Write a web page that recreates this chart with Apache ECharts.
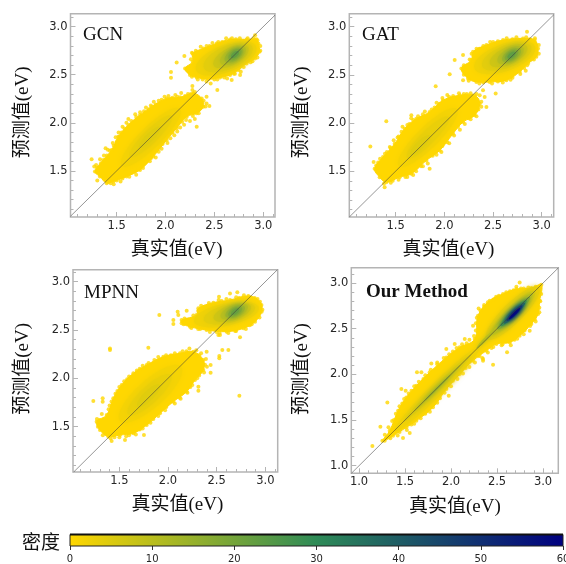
<!DOCTYPE html>
<html><head><meta charset="utf-8">
<script src="https://cdn.jsdelivr.net/npm/echarts@6/dist/echarts.min.js"></script>
<style>html,body{margin:0;padding:0;background:#fff}#c{width:566px;height:564px}</style>
</head><body><div id="c"></div>
<script>
const densityStops = ['#FFD700', '#2E8B57', '#000080'];
const densityTicks = [0, 10, 20, 30, 40, 50, 60];
const majorA = [1.5, 2.0, 2.5, 3.0];
const majorB = [1.0, 1.5, 2.0, 2.5, 3.0];
const minorA = [1.1,1.2,1.3,1.4,1.6,1.7,1.8,1.9,2.1,2.2,2.3,2.4,2.6,2.7,2.8,2.9,3.1];
const minorB = [1.0,1.1,1.2,1.3,1.4,1.6,1.7,1.8,1.9,2.1,2.2,2.3,2.4,2.6,2.7,2.8,2.9,3.1];
const xTitle = '真实值(eV)', yTitle = '预测值(eV)', barTitle = '密度';

// cloud outlines [true, predicted]
const gcnLow = [[1.278,1.493],[1.363,1.614],[1.449,1.718],[1.517,1.856],[1.619,1.978],[1.739,2.081],[1.858,2.168],[2.012,2.254],[2.148,2.265],[2.285,2.306],[2.37,2.254],[2.387,2.168],[2.319,2.099],[2.217,2.064],[2.114,1.943],[2.012,1.822],[1.875,1.649],[1.739,1.51],[1.602,1.441],[1.466,1.389],[1.398,1.372],[1.329,1.441]];
const gcnHigh = [[2.20,2.566],[2.278,2.635],[2.278,2.72],[2.387,2.773],[2.524,2.825],[2.66,2.867],[2.831,2.867],[2.93,2.87],[2.95,2.825],[2.96,2.74],[2.916,2.67],[2.83,2.618],[2.746,2.548],[2.66,2.497],[2.558,2.472],[2.439,2.452],[2.319,2.472],[2.25,2.497]];
const gatLow = [[1.284,1.524],[1.37,1.646],[1.49,1.785],[1.592,1.941],[1.712,2.045],[1.849,2.115],[1.986,2.236],[2.158,2.288],[2.312,2.288],[2.363,2.201],[2.312,2.08],[2.192,2.01],[2.089,1.889],[1.952,1.715],[1.815,1.611],[1.661,1.472],[1.541,1.438],[1.404,1.385],[1.336,1.438]];
const gatHigh = [[2.175,2.566],[2.277,2.653],[2.295,2.74],[2.432,2.809],[2.603,2.861],[2.808,2.878],[2.928,2.861],[2.962,2.774],[2.945,2.688],[2.86,2.618],[2.774,2.531],[2.637,2.444],[2.466,2.427],[2.329,2.427],[2.243,2.462]];
const mpnnLow = [[1.267,1.552],[1.37,1.621],[1.438,1.793],[1.524,1.931],[1.644,2.052],[1.781,2.138],[1.952,2.224],[2.123,2.259],[2.26,2.276],[2.363,2.19],[2.363,2.086],[2.277,1.983],[2.192,1.862],[2.055,1.759],[1.918,1.638],[1.781,1.517],[1.644,1.431],[1.507,1.414],[1.387,1.397],[1.301,1.466]];
const mpnnHigh = [[2.14,2.603],[2.295,2.655],[2.312,2.724],[2.466,2.783],[2.637,2.81],[2.825,2.852],[2.945,2.793],[2.962,2.69],[2.894,2.586],[2.774,2.517],[2.603,2.483],[2.397,2.5],[2.226,2.534],[2.14,2.569]];
const oursAll = [[1.254,1.274],[1.333,1.383],[1.424,1.602],[1.514,1.748],[1.623,1.876],[1.768,2.022],[1.949,2.186],[2.094,2.296],[2.257,2.387],[2.293,2.642],[2.42,2.807],[2.565,2.88],[2.71,2.934],[2.873,2.945],[2.982,2.982],[2.964,2.807],[2.946,2.661],[2.873,2.551],[2.746,2.423],[2.638,2.35],[2.493,2.332],[2.384,2.259],[2.239,2.15],[2.094,2.004],[1.949,1.839],[1.804,1.639],[1.623,1.493],[1.514,1.42],[1.37,1.328],[1.279,1.274]];

// loose points at the cloud edges and outliers
const gcnDots = [[1.244,1.621],[1.271,1.545],[1.302,1.40],[1.387,1.735],[1.527,1.856],[2.056,2.528],[2.056,2.469],[2.114,2.628],[2.193,2.694],[2.275,2.382],[2.275,2.341],[2.285,2.306],[2.42,2.27],[2.42,2.20],[2.449,2.175],[2.319,1.96],[2.53,2.34],[2.677,2.445],[2.763,2.497],[2.462,2.41],[2.916,2.912],[1.30,1.53],[1.34,1.58],[1.40,1.66],[1.43,1.71],[1.47,1.76],[1.50,1.80],[1.55,1.90],[1.58,1.94],[1.65,2.02],[1.70,2.06],[1.78,2.12],[1.83,2.14],[1.90,2.19],[1.96,2.24],[2.07,2.26],[2.12,2.27],[2.20,2.28],[2.26,2.30],[2.34,2.14],[2.28,2.07],[2.25,2.02],[2.17,2.01],[2.15,1.95],[2.07,1.90],[2.05,1.84],[1.97,1.78],[1.93,1.70],[1.85,1.63],[1.80,1.59],[1.72,1.52],[1.66,1.50],[1.56,1.42],[1.50,1.40],[1.44,1.37],[2.33,2.68],[2.45,2.80],[2.58,2.84],[2.72,2.87],[2.90,2.88],[2.93,2.79],[2.87,2.63],[2.70,2.51],[2.60,2.47],[2.50,2.45],[2.38,2.45],
[1.29,1.56],[1.33,1.62],[1.37,1.66],[1.41,1.72],[1.46,1.79],[1.49,1.85],[1.52,1.90],[1.56,1.96],[1.60,2.00],[1.62,2.04],[1.69,2.09],[1.74,2.11],[1.80,2.16],[1.85,2.18],[1.88,2.22],[1.93,2.23],[1.99,2.27],[2.03,2.28],[2.10,2.29],[2.16,2.31],[2.23,2.30],[2.30,2.32],[2.39,2.23],[2.41,2.17],[2.34,2.10],[2.30,2.04],[2.21,2.03],[2.19,1.98],[2.12,1.91],[2.09,1.87],[2.02,1.79],[1.96,1.73],[1.90,1.64],[1.84,1.60],[1.77,1.53],[1.70,1.46],[1.63,1.44],[1.54,1.39],[1.47,1.36],[2.26,2.58],[2.26,2.66],[2.27,2.73],[2.31,2.75],[2.36,2.79],[2.42,2.80],[2.48,2.83],[2.54,2.84],[2.62,2.88],[2.68,2.88],[2.76,2.88],[2.84,2.88],[2.94,2.86],[2.97,2.80],[2.97,2.75],[2.94,2.68],[2.89,2.64],[2.80,2.58],[2.77,2.53],[2.71,2.51],[2.63,2.46],[2.53,2.45],[2.42,2.43],[2.33,2.45],[2.27,2.48]];
const gatDots = [[1.24,1.757],[1.274,1.594],[1.404,2.017],[1.387,1.333],[1.911,2.382],[2.055,2.507],[2.106,2.653],[2.192,2.705],[2.192,2.444],[2.849,2.948],[2.836,2.542],[2.527,2.306],[2.432,2.167],[2.414,2.271],[2.363,2.288],[1.849,1.524],[1.661,2.08],[2.397,2.34],[1.32,1.59],[1.41,1.70],[1.45,1.74],[1.53,1.86],[1.56,1.91],[1.64,1.99],[1.68,2.03],[1.78,2.09],[1.90,2.16],[1.95,2.20],[2.05,2.27],[2.10,2.26],[2.23,2.30],[2.34,2.24],[2.35,2.14],[2.25,2.05],[2.14,1.96],[2.03,1.80],[1.98,1.76],[1.88,1.66],[1.76,1.55],[1.71,1.50],[1.60,1.44],[1.47,1.40],[2.36,2.77],[2.50,2.84],[2.70,2.87],[2.88,2.87],[2.94,2.72],[2.82,2.57],[2.70,2.47],[2.55,2.43],[2.40,2.42],
[1.30,1.56],[1.34,1.63],[1.39,1.68],[1.44,1.75],[1.48,1.82],[1.52,1.85],[1.57,1.96],[1.62,1.98],[1.66,2.05],[1.73,2.07],[1.80,2.12],[1.87,2.14],[1.92,2.21],[1.98,2.26],[2.03,2.29],[2.09,2.28],[2.15,2.31],[2.20,2.30],[2.27,2.31],[2.33,2.30],[2.38,2.22],[2.38,2.17],[2.33,2.07],[2.27,2.04],[2.21,1.99],[2.16,1.93],[2.10,1.87],[2.05,1.79],[1.97,1.70],[1.92,1.67],[1.83,1.58],[1.78,1.55],[1.68,1.46],[1.62,1.44],[1.53,1.41],[1.45,1.38],[1.38,1.37],[2.20,2.60],[2.26,2.66],[2.28,2.72],[2.33,2.77],[2.40,2.80],[2.47,2.84],[2.55,2.85],[2.64,2.88],[2.74,2.89],[2.84,2.89],[2.93,2.88],[2.97,2.81],[2.97,2.72],[2.92,2.66],[2.85,2.60],[2.78,2.51],[2.68,2.45],[2.60,2.42],[2.49,2.41],[2.36,2.41],[2.25,2.44],[2.20,2.50]];
const mpnnDots = [[1.233,1.766],[1.329,1.793],[1.329,1.759],[1.295,1.569],[1.404,2.31],[1.404,2.293],[1.798,2.317],[1.911,2.655],[2.055,2.603],[2.055,2.562],[2.099,2.69],[2.106,2.655],[2.192,2.7],[2.637,2.879],[2.712,2.89],[2.524,2.845],[2.74,2.424],[2.733,1.821],[2.62,2.293],[2.558,2.293],[2.527,2.231],[2.527,2.207],[2.517,2.448],[2.534,2.448],[2.397,2.276],[2.438,2.138],[2.438,2.059],[1.558,1.362],[1.421,1.352],[1.753,1.414],[2.312,1.872],[2.312,1.914],[1.40,1.72],[1.48,1.87],[1.58,1.99],[1.71,2.10],[1.86,2.19],[2.03,2.24],[2.19,2.28],[2.32,2.24],[2.38,2.14],[2.32,2.03],[2.23,1.91],[2.12,1.80],[1.98,1.70],[1.85,1.58],[1.71,1.47],[1.57,1.40],[1.45,1.39],[2.38,2.74],[2.55,2.80],[2.73,2.83],[2.89,2.83],[2.95,2.74],[2.84,2.55],[2.69,2.49],[2.50,2.48],[2.31,2.51],
[1.27,1.58],[1.32,1.63],[1.39,1.68],[1.42,1.76],[1.46,1.84],[1.50,1.91],[1.55,1.97],[1.60,2.02],[1.68,2.08],[1.74,2.13],[1.80,2.16],[1.90,2.22],[1.98,2.24],[2.07,2.26],[2.15,2.28],[2.22,2.31],[2.29,2.29],[2.34,2.26],[2.39,2.20],[2.40,2.12],[2.37,2.06],[2.30,2.00],[2.25,1.93],[2.20,1.85],[2.13,1.79],[2.07,1.74],[1.97,1.67],[1.90,1.61],[1.82,1.54],[1.74,1.48],[1.67,1.42],[1.60,1.41],[1.50,1.39],[1.41,1.38],[1.33,1.41],[1.28,1.50],[2.17,2.62],[2.26,2.65],[2.31,2.70],[2.34,2.75],[2.42,2.78],[2.52,2.81],[2.60,2.82],[2.70,2.84],[2.78,2.86],[2.85,2.84],[2.92,2.82],[2.96,2.76],[2.97,2.71],[2.94,2.63],[2.86,2.56],[2.80,2.51],[2.70,2.49],[2.62,2.47],[2.53,2.47],[2.43,2.48],[2.33,2.51],[2.24,2.52],[2.16,2.56]];
const oursDots = [[1.145,1.215],[1.232,1.427],[1.308,1.693],[1.46,1.839],[1.507,1.821],[1.63,2.022],[1.678,2.022],[1.786,2.12],[1.949,2.277],[2.04,2.332],[2.149,2.387],[2.348,2.168],[2.457,2.106],[2.348,2.15],[2.293,2.204],[2.609,2.241],[2.855,2.478],[2.746,3.007],[2.71,2.96],[1.478,1.303],[1.551,1.358],[1.975,1.766],[2.312,2.551],[2.239,2.533],[1.38,1.50],[1.47,1.68],[1.57,1.82],[1.70,1.95],[1.85,2.11],[2.02,2.25],[2.17,2.34],[2.30,2.72],[2.36,2.76],[2.49,2.85],[2.64,2.91],[2.79,2.94],[2.92,2.88],[2.96,2.73],[2.91,2.60],[2.80,2.48],[2.69,2.38],[2.56,2.33],[2.44,2.29],[2.31,2.20],[2.16,2.07],[2.02,1.93],[1.88,1.74],[1.72,1.57],[1.57,1.45],[1.44,1.37],
[1.28,1.34],[1.32,1.42],[1.36,1.49],[1.40,1.57],[1.44,1.65],[1.49,1.73],[1.54,1.79],[1.60,1.87],[1.65,1.92],[1.72,1.99],[1.78,2.05],[1.85,2.13],[1.92,2.18],[1.98,2.22],[2.06,2.29],[2.12,2.33],[2.20,2.38],[2.25,2.42],[2.27,2.48],[2.27,2.56],[2.28,2.62],[2.32,2.70],[2.36,2.74],[2.40,2.79],[2.46,2.82],[2.52,2.86],[2.60,2.90],[2.68,2.92],[2.76,2.94],[2.84,2.95],[2.92,2.96],[2.98,2.88],[2.97,2.80],[2.96,2.68],[2.92,2.58],[2.86,2.53],[2.79,2.44],[2.72,2.39],[2.65,2.32],[2.55,2.32],[2.46,2.30],[2.40,2.24],[2.34,2.18],[2.26,2.13],[2.20,2.08],[2.13,2.01],[2.07,1.95],[2.00,1.87],[1.93,1.80],[1.85,1.69],[1.77,1.59],[1.67,1.52],[1.60,1.46],[1.52,1.39],[1.42,1.33],[1.34,1.30]];

// density contours as read: [density, centre x, centre y, half length, half width, angle]
const gcnBands = [[2,2.62,2.67,.33,.14,22],[4,2.64,2.68,.27,.12,24],[7,2.67,2.69,.2,.09,28],[10,2.69,2.70,.15,.072,32],[14,2.70,2.705,.11,.056,35],[18,2.71,2.71,.08,.042,38],[23,2.71,2.71,.05,.026,40],[1.5,1.85,1.85,.42,.11,45],[3,1.85,1.86,.3,.07,45],[4.5,1.84,1.85,.15,.04,45]];
const gatBands = [[2,2.62,2.68,.33,.14,20],[4,2.64,2.69,.27,.115,22],[7,2.66,2.70,.21,.09,25],[10,2.68,2.705,.15,.07,28],[14,2.69,2.705,.11,.054,32],[18,2.69,2.705,.08,.04,35],[23,2.69,2.705,.05,.025,38],[1.5,1.83,1.85,.42,.11,45],[3,1.83,1.85,.3,.07,45],[4.5,1.75,1.77,.14,.04,45]];
const mpnnBands = [[2,2.60,2.66,.34,.115,12],[4,2.63,2.67,.27,.095,14],[7,2.66,2.68,.2,.08,18],[10,2.68,2.69,.15,.065,22],[14,2.69,2.69,.11,.05,26],[18,2.69,2.69,.08,.038,30],[22,2.69,2.69,.05,.024,35],[1.5,1.82,1.84,.42,.14,42],[3,1.81,1.83,.3,.09,43],[4.5,1.8,1.82,.16,.05,45]];
const oursBands = [[3,2.67,2.67,.4,.11,45],[6,2.67,2.67,.34,.07,45],[10,2.66,2.66,.32,.05,45],[18,2.68,2.67,.25,.04,45],[28,2.68,2.67,.2,.032,45],[38,2.69,2.67,.16,.026,45],[48,2.69,2.67,.12,.021,45],[58,2.69,2.665,.085,.015,45],[2,1.85,1.84,.65,.07,45],[5,1.85,1.85,.52,.035,45],[9,1.85,1.85,.36,.02,45],[14,1.85,1.85,.2,.012,45],[10,2.39,2.40,.16,.02,45]];

const panels = [
  {name:'GCN', bold:false, clouds:[gcnLow,gcnHigh], dots:gcnDots, bands:gcnBands, major:majorA, minor:minorA, box:[70.5,13.7,204.5,203.3], xr:[1.028,3.12], yr:[1.02,3.135], tx:83, ty:26, xGap:24, yGap:38, xPad:8, yPad:6},
  {name:'GAT', bold:false, clouds:[gatLow,gatHigh], dots:gatDots, bands:gatBands, major:majorA, minor:minorA, box:[349.3,13.7,204.4,203.3], xr:[1.024,3.123], yr:[1.024,3.135], tx:362, ty:26, xGap:24, yGap:38, xPad:-6, yPad:6},
  {name:'MPNN', bold:false, clouds:[mpnnLow,mpnnHigh], dots:mpnnDots, bands:mpnnBands, major:majorA, minor:minorA, box:[73,269.7,204.7,202.3], xr:[1.024,3.127], yr:[1.031,3.124], tx:84, ty:284, xGap:24, yGap:40, xPad:4, yPad:4},
  {name:'Our Method', bold:true, clouds:[oursAll], dots:oursDots, bands:oursBands, major:majorB, minor:minorB, box:[351.3,267.7,207,205.6], xr:[0.916,3.166], yr:[0.917,3.168], tx:366, ty:283, xGap:24, yGap:40, xPad:0, yPad:3}
];

const frame = '#b4b4b4', ink = '#262626';
const serif = '"Liberation Serif","Noto Sans CJK SC",serif';
const col = d => echarts.color.lerp(d / 60, densityStops);

const grid = [], xAxis = [], yAxis = [], series = [], title = [];
panels.forEach((p, i) => {
  grid.push({left:p.box[0], top:p.box[1], width:p.box[2], height:p.box[3], outerBoundsMode:'none', show:true, borderColor:frame, borderWidth:1.5, backgroundColor:'#fff'});
  const mk = (range, isX) => {
    const base = {gridIndex:i, type:'value', min:range[0], max:range[1], splitLine:{show:false}, axisLine:{show:false}, position: isX?'bottom':'left'};
    const pad = isX ? (p.xPad>=0 ? [0,0,0,p.xPad] : [0,-p.xPad,0,0]) : [0,0,0,p.yPad];
    return [
      Object.assign({}, base, {
        name: isX ? xTitle : yTitle, nameLocation:'middle', nameGap: isX ? p.xGap : p.yGap,
        nameRotate: isX ? 0 : 90,
        nameTextStyle:{fontFamily:serif, fontSize:19, color:'#111', padding:pad},
        axisTick:{show:true, inside:true, length:5, customValues:p.major, lineStyle:{color:frame, width:1}},
        axisLabel:{show:true, customValues:p.major, margin:3, fontFamily:'"DejaVu Sans"', fontSize:11.5, color:ink, formatter:v=>Number(v).toFixed(1)}
      }),
      Object.assign({}, base, {
        axisTick:{show:true, inside:true, length:3, customValues:p.minor, lineStyle:{color:frame, width:1}},
        axisLabel:{show:false}
      })
    ];
  };
  xAxis.push(...mk(p.xr, true));
  yAxis.push(...mk(p.yr, false));
  const ax = {xAxisIndex:i*2, yAxisIndex:i*2};
  // cloud bodies
  series.push(Object.assign({type:'custom', silent:true, z:2, data:p.clouds.map((c,k)=>[c[0][0],c[0][1],k]), encode:{x:0,y:1},
    renderItem:(params, api) => ({type:'polygon', shape:{points:p.clouds[params.dataIndex].map(q=>api.coord(q)), smooth:0.4},
      style:{fill:densityStops[0], stroke:densityStops[0], lineWidth:1, lineJoin:'round'}})
  }, ax));
  // individual points on edges
  series.push(Object.assign({type:'scatter', silent:true, z:3, symbolSize:4, itemStyle:{color:densityStops[0]},
    data:p.dots.concat(...p.clouds)}, ax));
  // density contours
  series.push(Object.assign({type:'custom', silent:true, z:4, data:p.bands, encode:{x:1,y:2},
    renderItem:(params, api) => {
      const b = p.bands[params.dataIndex], th = b[5]*Math.PI/180, pts = [];
      for (let k=0;k<48;k++){
        const t = k/48*2*Math.PI, u = b[3]*Math.cos(t), v = b[4]*Math.sin(t);
        pts.push(api.coord([b[1]+u*Math.cos(th)-v*Math.sin(th), b[2]+u*Math.sin(th)+v*Math.cos(th)]));
      }
      const c = col(b[0]);
      return {type:'polygon', shape:{points:pts}, style:{fill:c, shadowBlur:5, shadowColor:c}};
    }
  }, ax));
  // y = x reference
  const lo = Math.max(p.xr[0],p.yr[0]), hi = Math.min(p.xr[1],p.yr[1]);
  series.push(Object.assign({type:'line', silent:true, z:5, symbol:'none', data:[[lo,lo],[hi,hi]],
    lineStyle:{color:'rgba(60,60,60,0.6)', width:0.9}}, ax));
  title.push({text:p.name, left:p.tx, top:p.ty, padding:0, textStyle:{fontFamily:serif, fontSize:19, fontWeight:p.bold?'bold':'normal', color:'#111'}});
});

// colour bar
const bi = panels.length;
grid.push({left:70, top:534.5, width:493, height:11.5, show:false, outerBoundsMode:'none'});
xAxis.push({gridIndex:bi, type:'value', min:densityTicks[0], max:densityTicks[6], interval:10,
  axisLine:{show:false}, splitLine:{show:false},
  axisTick:{show:true, length:4, lineStyle:{color:'#333', width:1}},
  axisLabel:{show:true, margin:8, fontFamily:'"DejaVu Sans"', fontSize:10, color:ink, hideOverlap:false}});
yAxis.push({gridIndex:bi, type:'value', min:0, max:1, show:false});
series.push({type:'custom', silent:true, xAxisIndex:bi*2, yAxisIndex:bi*2, z:3, data:[[0,0,60,1]], encode:{x:[0,2],y:[1,3]},
  renderItem:(params, api) => {
    const a = api.coord([api.value(0),api.value(1)]), b = api.coord([api.value(2),api.value(3)]);
    return {type:'group', children:[
      {type:'rect', shape:{x:a[0],y:b[1],width:b[0]-a[0],height:a[1]-b[1]},
       style:{fill:new echarts.graphic.LinearGradient(0,0,1,0,[{offset:0,color:densityStops[0]},{offset:.5,color:densityStops[1]},{offset:1,color:densityStops[2]}]), stroke:'#222', lineWidth:1}},
      {type:'line', shape:{x1:a[0],y1:b[1],x2:b[0],y2:b[1]}, style:{stroke:'#111', lineWidth:2}}
    ]};
  }});
title.push({text:barTitle, left:22, top:535, padding:0, textStyle:{fontFamily:serif, fontSize:19, fontWeight:'normal', color:'#111'}});

const chart = echarts.init(document.getElementById('c'), null, {renderer:'canvas'});
chart.setOption({animation:false, backgroundColor:'#fff', title, grid, xAxis, yAxis, series});
</script></body></html>
